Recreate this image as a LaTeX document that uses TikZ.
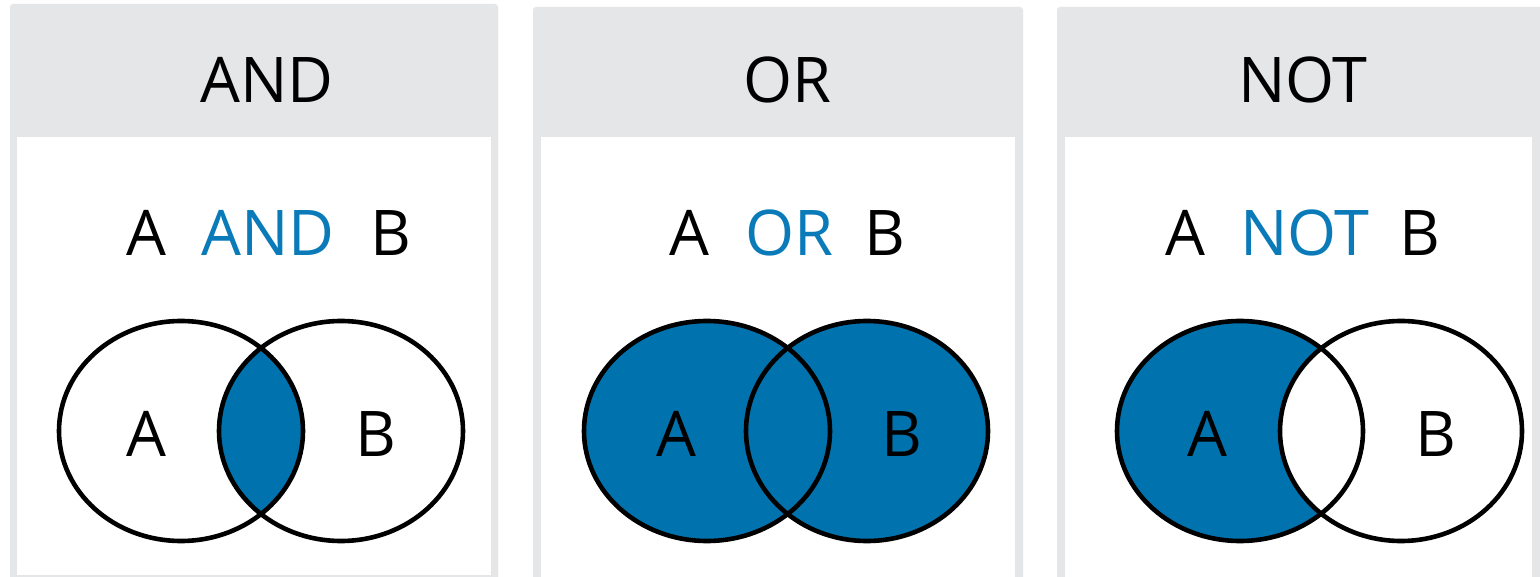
\documentclass[tikz,border=0pt]{standalone}
\usepackage{fontspec}
\setmainfont{Open Sans}
\definecolor{panelgray}{RGB}{229,230,232}
\definecolor{vennblue}{RGB}{0,115,175}
\definecolor{textblue}{RGB}{10,122,184}
\tikzset{
  outerpanel/.style={fill=panelgray, rounded corners=3pt},
  innerpanel/.style={fill=white},
  title/.style={font=\fontsize{63}{63}\selectfont, text=black, inner sep=0pt},
  word/.style={font=\fontsize{63}{63}\selectfont, text=black, inner sep=0pt},
  opword/.style={font=\fontsize{63}{63}\selectfont, text=textblue, inner sep=0pt},
  vennline/.style={draw=black, line width=4.6pt},
  vennfill/.style={fill=vennblue},
}
\begin{document}
\begin{tikzpicture}[x=1pt,y=-1pt]
\useasboundingbox (0,0) rectangle (1540,577);
\fill[white] (0,0) rectangle (1540,577);
\clip (0,0) rectangle (1540,577);
% panels
\fill[outerpanel] (10,4) rectangle (498,600);
\fill[innerpanel] (17,137) rectangle (491,575);
\fill[outerpanel] (533,7) rectangle (1023,600);
\fill[innerpanel] (541,137) rectangle (1015,600);
\fill[outerpanel] (1057,7) rectangle (1545,600);
\fill[innerpanel] (1065,137) rectangle (1532,600);
% titles
\node[title] (t1) at (267,80) {AND};
\node[title] (t2) at (787,80) {OR};
\node[title] (t3) at (1303,80) {NOT};
% expressions
\node[word] (e1a) at (146,233) {A};
\node[opword] (e1o) at (268,233) {AND};
\node[word] (e1b) at (391,233) {B};
\node[word] (e2a) at (689,233) {A};
\node[opword] (e2o) at (789,233) {OR};
\node[word] (e2b) at (885,233) {B};
\node[word] (e3a) at (1185,233) {A};
\node[opword] (e3o) at (1305,233) {NOT};
\node[word] (e3b) at (1420,233) {B};
% AND venn
\begin{scope}
\clip (181,431) ellipse [x radius=122, y radius=110];
\fill[vennfill] (341,431) ellipse [x radius=122, y radius=110];
\end{scope}
\draw[vennline] (181,431) ellipse [x radius=122, y radius=110];
\draw[vennline] (341,431) ellipse [x radius=122, y radius=110];
\node[word] (v1a) at (146,434) {A};
\node[word] (v1b) at (376,434) {B};
% OR venn
\fill[vennfill] (707,431) ellipse [x radius=123, y radius=110];
\fill[vennfill] (867,431) ellipse [x radius=121, y radius=110];
\draw[vennline] (707,431) ellipse [x radius=123, y radius=110];
\draw[vennline] (867,431) ellipse [x radius=121, y radius=110];
\node[word] (v2a) at (676,434) {A};
\node[word] (v2b) at (902,434) {B};
% NOT venn
\fill[vennfill] (1240,431) ellipse [x radius=123, y radius=110];
\fill[white] (1401,431) ellipse [x radius=121, y radius=110];
\draw[vennline] (1240,431) ellipse [x radius=123, y radius=110];
\draw[vennline] (1401,431) ellipse [x radius=121, y radius=110];
\node[word] (v3a) at (1207,434) {A};
\node[word] (v3b) at (1436,434) {B};
\end{tikzpicture}
\end{document}
